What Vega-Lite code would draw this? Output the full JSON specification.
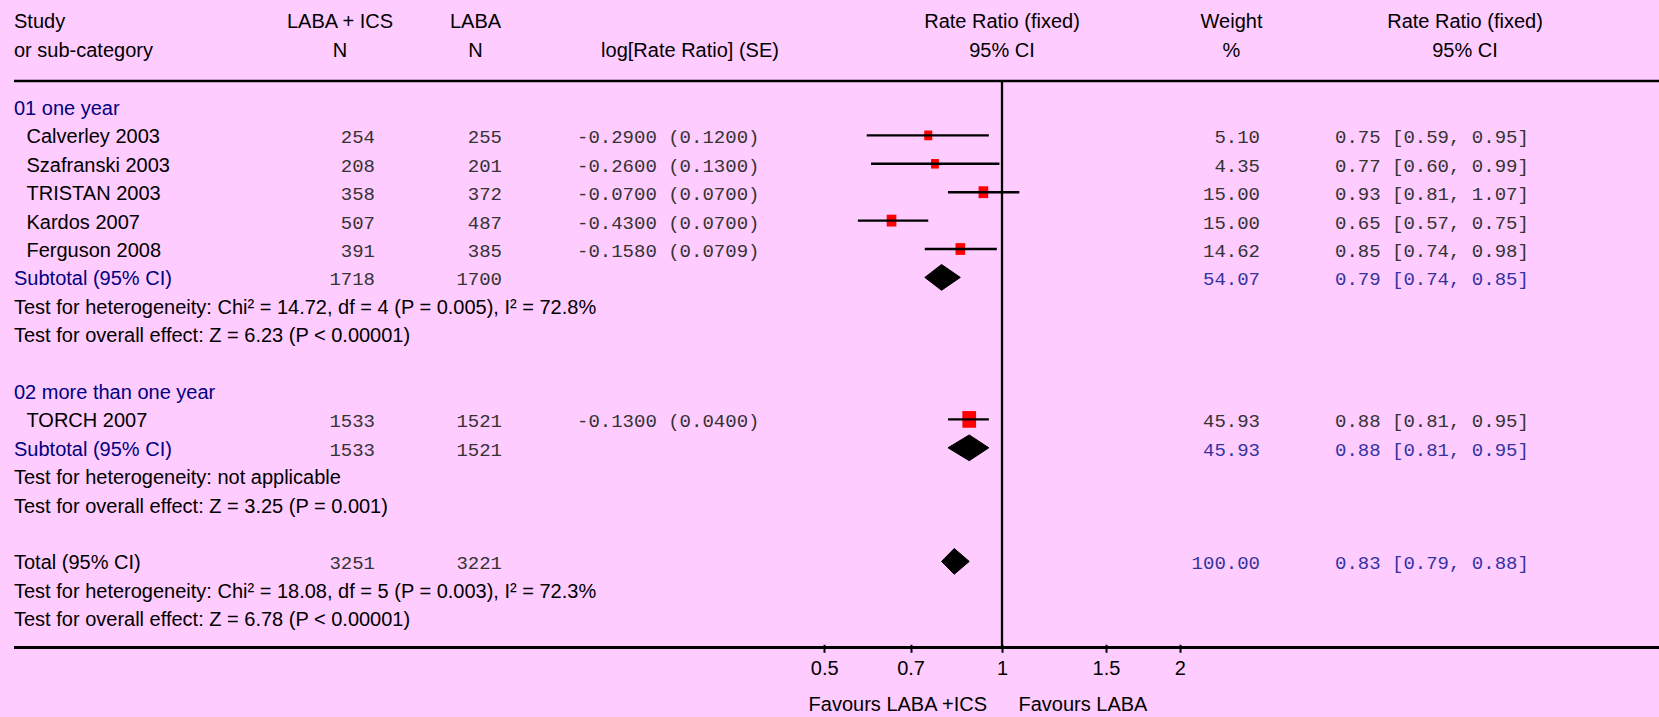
{
  "$schema": "https://vega.github.io/schema/vega-lite/v6.json",
  "background": "#FFCCFF",
  "padding": {"left": 12, "top": 0, "right": 0, "bottom": 0},
  "spacing": 0,
  "bounds": "flush",
  "config": {
    "view": {"stroke": null},
    "text": {"baseline": "middle", "dy": 2, "font": "Liberation Sans", "fontSize": 20, "color": "black"}
  },
  "datasets": {
    "rows": [
      {"row": 0, "kind": "group", "label": "01 one year"},
      {"row": 1, "kind": "study", "label": "Calverley 2003", "n1": 254, "n2": 255, "lrr": "-0.2900 (0.1200)", "weight": 5.10, "ci": "0.75 [0.59, 0.95]", "rr": 0.75, "lo": 0.59, "hi": 0.95},
      {"row": 2, "kind": "study", "label": "Szafranski 2003", "n1": 208, "n2": 201, "lrr": "-0.2600 (0.1300)", "weight": 4.35, "ci": "0.77 [0.60, 0.99]", "rr": 0.77, "lo": 0.60, "hi": 0.99},
      {"row": 3, "kind": "study", "label": "TRISTAN 2003", "n1": 358, "n2": 372, "lrr": "-0.0700 (0.0700)", "weight": 15.00, "ci": "0.93 [0.81, 1.07]", "rr": 0.93, "lo": 0.81, "hi": 1.07},
      {"row": 4, "kind": "study", "label": "Kardos 2007", "n1": 507, "n2": 487, "lrr": "-0.4300 (0.0700)", "weight": 15.00, "ci": "0.65 [0.57, 0.75]", "rr": 0.65, "lo": 0.57, "hi": 0.75},
      {"row": 5, "kind": "study", "label": "Ferguson 2008", "n1": 391, "n2": 385, "lrr": "-0.1580 (0.0709)", "weight": 14.62, "ci": "0.85 [0.74, 0.98]", "rr": 0.85, "lo": 0.74, "hi": 0.98},
      {"row": 6, "kind": "subtotal", "label": "Subtotal (95% CI)", "n1": 1718, "n2": 1700, "weight": 54.07, "ci": "0.79 [0.74, 0.85]", "rr": 0.79, "lo": 0.74, "hi": 0.85},
      {"row": 7, "kind": "test", "label": "Test for heterogeneity: Chi² = 14.72, df = 4 (P = 0.005), I² = 72.8%"},
      {"row": 8, "kind": "test", "label": "Test for overall effect: Z = 6.23 (P < 0.00001)"},
      {"row": 10, "kind": "group", "label": "02 more than one year"},
      {"row": 11, "kind": "study", "label": "TORCH 2007", "n1": 1533, "n2": 1521, "lrr": "-0.1300 (0.0400)", "weight": 45.93, "ci": "0.88 [0.81, 0.95]", "rr": 0.88, "lo": 0.81, "hi": 0.95},
      {"row": 12, "kind": "subtotal", "label": "Subtotal (95% CI)", "n1": 1533, "n2": 1521, "weight": 45.93, "ci": "0.88 [0.81, 0.95]", "rr": 0.88, "lo": 0.81, "hi": 0.95},
      {"row": 13, "kind": "test", "label": "Test for heterogeneity: not applicable"},
      {"row": 14, "kind": "test", "label": "Test for overall effect: Z = 3.25 (P = 0.001)"},
      {"row": 16, "kind": "total", "label": "Total (95% CI)", "n1": 3251, "n2": 3221, "weight": 100.00, "ci": "0.83 [0.79, 0.88]", "rr": 0.83, "lo": 0.79, "hi": 0.88},
      {"row": 17, "kind": "test", "label": "Test for heterogeneity: Chi² = 18.08, df = 5 (P = 0.003), I² = 72.3%"},
      {"row": 18, "kind": "test", "label": "Test for overall effect: Z = 6.78 (P < 0.00001)"}
    ],
    "header": [
      {"row": -3, "col": "study", "text": "Study"},
      {"row": -2, "col": "study", "text": "or sub-category"},
      {"row": -3, "col": "n1", "text": "LABA + ICS"},
      {"row": -2, "col": "n1", "text": "N"},
      {"row": -3, "col": "n2", "text": "LABA"},
      {"row": -2, "col": "n2", "text": "N"},
      {"row": -2, "col": "lrr", "text": "log[Rate Ratio] (SE)"},
      {"row": -3, "col": "forest", "text": "Rate Ratio (fixed)"},
      {"row": -2, "col": "forest", "text": "95% CI"},
      {"row": -3, "col": "weight", "text": "Weight"},
      {"row": -2, "col": "weight", "text": "%"},
      {"row": -3, "col": "ci", "text": "Rate Ratio (fixed)"},
      {"row": -2, "col": "ci", "text": "95% CI"}
    ]
  },
  "hconcat": [
    {
      "width": 291, "height": 717,
      "layer": [
        {"data": {"values": [{}]}, "mark": {"type": "rule", "color": "black", "strokeWidth": 2.5}, "encoding": {"y": {"datum": -0.915, "type": "quantitative", "scale": {"domain": [-3.7676, 21.4789], "reverse": true, "nice": false, "zero": false}, "axis": null}}},
        {"data": {"values": [{}]}, "mark": {"type": "rule", "color": "black", "strokeWidth": 3}, "encoding": {"y": {"datum": 19.03, "type": "quantitative", "scale": {"domain": [-3.7676, 21.4789], "reverse": true, "nice": false, "zero": false}, "axis": null}}},
        {"data": {"name": "header"}, "transform": [{"filter": "datum.col === 'study'"}], "mark": {"type": "text", "align": "left", "dy": 0.5},
         "encoding": {"x": {"datum": "left", "type": "nominal", "scale": {"type": "point", "domain": ["left", "center", "right"], "padding": 0}, "axis": null},
                      "y": {"field": "row", "type": "quantitative", "scale": {"domain": [-3.7676, 21.4789], "reverse": true, "nice": false, "zero": false}, "axis": null},
                      "text": {"field": "text", "type": "nominal"}}},
        {"data": {"name": "rows"}, "transform": [{"filter": "datum.kind !== 'study'"}], "mark": {"type": "text", "align": "left"},
         "encoding": {"x": {"datum": "left", "type": "nominal", "scale": {"type": "point", "domain": ["left", "center", "right"], "padding": 0}, "axis": null},
                      "y": {"field": "row", "type": "quantitative", "scale": {"domain": [-3.7676, 21.4789], "reverse": true, "nice": false, "zero": false}, "axis": null},
                      "text": {"field": "label", "type": "nominal"},
                      "color": {"condition": {"test": "datum.kind === 'group' || datum.kind === 'subtotal'", "value": "#000080"}, "value": "black"}}},
        {"data": {"name": "rows"}, "transform": [{"filter": "datum.kind === 'study'"}], "mark": {"type": "text", "align": "left", "dx": 12.5},
         "encoding": {"x": {"datum": "left", "type": "nominal", "scale": {"type": "point", "domain": ["left", "center", "right"], "padding": 0}, "axis": null},
                      "y": {"field": "row", "type": "quantitative", "scale": {"domain": [-3.7676, 21.4789], "reverse": true, "nice": false, "zero": false}, "axis": null},
                      "text": {"field": "label", "type": "nominal"}}}
      ]
    },
    {
      "width": 70, "height": 717,
      "layer": [
        {"data": {"values": [{}]}, "mark": {"type": "rule", "color": "black", "strokeWidth": 2.5}, "encoding": {"y": {"datum": -0.915, "type": "quantitative", "scale": {"domain": [-3.7676, 21.4789], "reverse": true, "nice": false, "zero": false}, "axis": null}}},
        {"data": {"values": [{}]}, "mark": {"type": "rule", "color": "black", "strokeWidth": 3}, "encoding": {"y": {"datum": 19.03, "type": "quantitative", "scale": {"domain": [-3.7676, 21.4789], "reverse": true, "nice": false, "zero": false}, "axis": null}}},
        {"data": {"name": "header"}, "transform": [{"filter": "datum.col === 'n1'"}], "mark": {"type": "text", "align": "center", "dy": 0.5},
         "encoding": {"x": {"datum": "center", "type": "nominal", "scale": {"type": "point", "domain": ["left", "center", "right"], "padding": 0}, "axis": null},
                      "y": {"field": "row", "type": "quantitative", "scale": {"domain": [-3.7676, 21.4789], "reverse": true, "nice": false, "zero": false}, "axis": null},
                      "text": {"field": "text", "type": "nominal"}}},
        {"data": {"name": "rows"}, "transform": [{"filter": "isValid(datum.n1)"}], "mark": {"type": "text", "align": "right", "font": "Liberation Mono", "fontSize": 19, "color": "#333333"},
         "encoding": {"x": {"datum": "right", "type": "nominal", "scale": {"type": "point", "domain": ["left", "center", "right"], "padding": 0}, "axis": null},
                      "y": {"field": "row", "type": "quantitative", "scale": {"domain": [-3.7676, 21.4789], "reverse": true, "nice": false, "zero": false}, "axis": null},
                      "text": {"field": "n1", "type": "quantitative", "format": "d"}}}
      ]
    },
    {
      "width": 74, "height": 717,
      "layer": [
        {"data": {"values": [{}]}, "mark": {"type": "rule", "color": "black", "strokeWidth": 2.5}, "encoding": {"y": {"datum": -0.915, "type": "quantitative", "scale": {"domain": [-3.7676, 21.4789], "reverse": true, "nice": false, "zero": false}, "axis": null}}},
        {"data": {"values": [{}]}, "mark": {"type": "rule", "color": "black", "strokeWidth": 3}, "encoding": {"y": {"datum": 19.03, "type": "quantitative", "scale": {"domain": [-3.7676, 21.4789], "reverse": true, "nice": false, "zero": false}, "axis": null}}}
      ]
    },
    {
      "width": 53, "height": 717,
      "layer": [
        {"data": {"values": [{}]}, "mark": {"type": "rule", "color": "black", "strokeWidth": 2.5}, "encoding": {"y": {"datum": -0.915, "type": "quantitative", "scale": {"domain": [-3.7676, 21.4789], "reverse": true, "nice": false, "zero": false}, "axis": null}}},
        {"data": {"values": [{}]}, "mark": {"type": "rule", "color": "black", "strokeWidth": 3}, "encoding": {"y": {"datum": 19.03, "type": "quantitative", "scale": {"domain": [-3.7676, 21.4789], "reverse": true, "nice": false, "zero": false}, "axis": null}}},
        {"data": {"name": "header"}, "transform": [{"filter": "datum.col === 'n2'"}], "mark": {"type": "text", "align": "center", "dy": 0.5},
         "encoding": {"x": {"datum": "center", "type": "nominal", "scale": {"type": "point", "domain": ["left", "center", "right"], "padding": 0}, "axis": null},
                      "y": {"field": "row", "type": "quantitative", "scale": {"domain": [-3.7676, 21.4789], "reverse": true, "nice": false, "zero": false}, "axis": null},
                      "text": {"field": "text", "type": "nominal"}}},
        {"data": {"name": "rows"}, "transform": [{"filter": "isValid(datum.n2)"}], "mark": {"type": "text", "align": "right", "font": "Liberation Mono", "fontSize": 19, "color": "#333333"},
         "encoding": {"x": {"datum": "right", "type": "nominal", "scale": {"type": "point", "domain": ["left", "center", "right"], "padding": 0}, "axis": null},
                      "y": {"field": "row", "type": "quantitative", "scale": {"domain": [-3.7676, 21.4789], "reverse": true, "nice": false, "zero": false}, "axis": null},
                      "text": {"field": "n2", "type": "quantitative", "format": "d"}}}
      ]
    },
    {
      "width": 75, "height": 717,
      "layer": [
        {"data": {"values": [{}]}, "mark": {"type": "rule", "color": "black", "strokeWidth": 2.5}, "encoding": {"y": {"datum": -0.915, "type": "quantitative", "scale": {"domain": [-3.7676, 21.4789], "reverse": true, "nice": false, "zero": false}, "axis": null}}},
        {"data": {"values": [{}]}, "mark": {"type": "rule", "color": "black", "strokeWidth": 3}, "encoding": {"y": {"datum": 19.03, "type": "quantitative", "scale": {"domain": [-3.7676, 21.4789], "reverse": true, "nice": false, "zero": false}, "axis": null}}}
      ]
    },
    {
      "width": 226, "height": 717,
      "layer": [
        {"data": {"values": [{}]}, "mark": {"type": "rule", "color": "black", "strokeWidth": 2.5}, "encoding": {"y": {"datum": -0.915, "type": "quantitative", "scale": {"domain": [-3.7676, 21.4789], "reverse": true, "nice": false, "zero": false}, "axis": null}}},
        {"data": {"values": [{}]}, "mark": {"type": "rule", "color": "black", "strokeWidth": 3}, "encoding": {"y": {"datum": 19.03, "type": "quantitative", "scale": {"domain": [-3.7676, 21.4789], "reverse": true, "nice": false, "zero": false}, "axis": null}}},
        {"data": {"name": "header"}, "transform": [{"filter": "datum.col === 'lrr'"}], "mark": {"type": "text", "align": "center", "dy": 0.5},
         "encoding": {"x": {"datum": "center", "type": "nominal", "scale": {"type": "point", "domain": ["left", "center", "right"], "padding": 0}, "axis": null},
                      "y": {"field": "row", "type": "quantitative", "scale": {"domain": [-3.7676, 21.4789], "reverse": true, "nice": false, "zero": false}, "axis": null},
                      "text": {"field": "text", "type": "nominal"}}},
        {"data": {"name": "rows"}, "transform": [{"filter": "isValid(datum.lrr)"}], "mark": {"type": "text", "align": "left", "font": "Liberation Mono", "fontSize": 19, "color": "#333333"},
         "encoding": {"x": {"datum": "left", "type": "nominal", "scale": {"type": "point", "domain": ["left", "center", "right"], "padding": 0}, "axis": null},
                      "y": {"field": "row", "type": "quantitative", "scale": {"domain": [-3.7676, 21.4789], "reverse": true, "nice": false, "zero": false}, "axis": null},
                      "text": {"field": "lrr", "type": "nominal"}}}
      ]
    },
    {
      "width": 400, "height": 717,
      "layer": [
        {"data": {"values": [{}]}, "mark": {"type": "rule", "color": "black", "strokeWidth": 2.5}, "encoding": {"y": {"datum": -0.915, "type": "quantitative", "scale": {"domain": [-3.7676, 21.4789], "reverse": true, "nice": false, "zero": false}, "axis": null}}},
        {"data": {"values": [{}]}, "mark": {"type": "rule", "color": "black", "strokeWidth": 3}, "encoding": {"y": {"datum": 19.03, "type": "quantitative", "scale": {"domain": [-3.7676, 21.4789], "reverse": true, "nice": false, "zero": false}, "axis": null}}},
        {"data": {"values": [{}]}, "mark": {"type": "rule", "color": "black", "strokeWidth": 2.3},
         "encoding": {"x": {"datum": 1, "type": "quantitative", "scale": {"type": "log", "domain": [0.46018, 2.19006], "nice": false},
                            "axis": {"orient": "bottom", "values": [0.5, 0.7, 1, 1.5, 2], "format": "~g", "domain": false, "grid": false, "ticks": true, "tickSize": 8, "tickWidth": 2, "tickColor": "black", "labelFont": "Liberation Sans", "labelFontSize": 20, "labelColor": "black", "labelPadding": 6, "offset": -72.7, "title": null, "labelFlush": false, "labelOverlap": false}},
                      "y": {"datum": -0.915, "type": "quantitative", "scale": {"domain": [-3.7676, 21.4789], "reverse": true, "nice": false, "zero": false}, "axis": null},
                      "y2": {"datum": 19.03}}},
        {"data": {"name": "header"}, "transform": [{"filter": "datum.col === 'forest'"}], "mark": {"type": "text", "align": "center", "dy": 0.5},
         "encoding": {"x": {"datum": 1, "type": "quantitative", "scale": {"type": "log", "domain": [0.46018, 2.19006], "nice": false},
                            "axis": {"orient": "bottom", "values": [0.5, 0.7, 1, 1.5, 2], "format": "~g", "domain": false, "grid": false, "ticks": true, "tickSize": 8, "tickWidth": 2, "tickColor": "black", "labelFont": "Liberation Sans", "labelFontSize": 20, "labelColor": "black", "labelPadding": 6, "offset": -72.7, "title": null, "labelFlush": false, "labelOverlap": false}},
                      "y": {"field": "row", "type": "quantitative", "scale": {"domain": [-3.7676, 21.4789], "reverse": true, "nice": false, "zero": false}, "axis": null},
                      "text": {"field": "text", "type": "nominal"}}},
        {"data": {"name": "rows"}, "transform": [{"filter": "datum.kind === 'study'"}],
         "mark": {"type": "point", "shape": "M-0.82,-1L0.82,-1L0.82,1L-0.82,1Z", "filled": true, "color": "#FF0000", "opacity": 1, "strokeWidth": 0},
         "encoding": {"x": {"field": "rr", "type": "quantitative", "scale": {"type": "log", "domain": [0.46018, 2.19006], "nice": false},
                            "axis": {"orient": "bottom", "values": [0.5, 0.7, 1, 1.5, 2], "format": "~g", "domain": false, "grid": false, "ticks": true, "tickSize": 8, "tickWidth": 2, "tickColor": "black", "labelFont": "Liberation Sans", "labelFontSize": 20, "labelColor": "black", "labelPadding": 6, "offset": -72.7, "title": null, "labelFlush": false, "labelOverlap": false}},
                      "y": {"field": "row", "type": "quantitative", "scale": {"domain": [-3.7676, 21.4789], "reverse": true, "nice": false, "zero": false}, "axis": null},
                      "size": {"field": "weight", "type": "quantitative", "scale": {"type": "linear", "domain": [5.1, 45.93], "range": [95, 279], "zero": false}, "legend": null}}},
        {"data": {"name": "rows"}, "transform": [{"filter": "datum.kind === 'study'"}],
         "mark": {"type": "rule", "color": "black", "strokeWidth": 2.4},
         "encoding": {"x": {"field": "lo", "type": "quantitative", "scale": {"type": "log", "domain": [0.46018, 2.19006], "nice": false},
                            "axis": {"orient": "bottom", "values": [0.5, 0.7, 1, 1.5, 2], "format": "~g", "domain": false, "grid": false, "ticks": true, "tickSize": 8, "tickWidth": 2, "tickColor": "black", "labelFont": "Liberation Sans", "labelFontSize": 20, "labelColor": "black", "labelPadding": 6, "offset": -72.7, "title": null, "labelFlush": false, "labelOverlap": false}},
                      "x2": {"field": "hi"},
                      "y": {"field": "row", "type": "quantitative", "scale": {"domain": [-3.7676, 21.4789], "reverse": true, "nice": false, "zero": false}, "axis": null}}},
        {"data": {"name": "rows"}, "transform": [{"filter": "datum.kind === 'subtotal' || datum.kind === 'total'"}],
         "mark": {"type": "point", "filled": true, "color": "black", "stroke": "black", "strokeWidth": 1, "opacity": 1, "size": 665.6},
         "encoding": {"x": {"field": "rr", "type": "quantitative", "scale": {"type": "log", "domain": [0.46018, 2.19006], "nice": false},
                            "axis": {"orient": "bottom", "values": [0.5, 0.7, 1, 1.5, 2], "format": "~g", "domain": false, "grid": false, "ticks": true, "tickSize": 8, "tickWidth": 2, "tickColor": "black", "labelFont": "Liberation Sans", "labelFontSize": 20, "labelColor": "black", "labelPadding": 6, "offset": -72.7, "title": null, "labelFlush": false, "labelOverlap": false}},
                      "y": {"field": "row", "type": "quantitative", "scale": {"domain": [-3.7676, 21.4789], "reverse": true, "nice": false, "zero": false}, "axis": null},
                      "shape": {"field": "row", "type": "nominal", "scale": {"domain": [6, 12, 16], "range": ["M-1.299,0L0,-1L1.455,0L0,1Z", "M-1.647,0L0,-1L1.522,0L0,1Z", "M-0.981,0L0,-1L1.163,0L0,1Z"]}, "legend": null}}},
        {"data": {"values": [{}]}, "mark": {"type": "text", "align": "right", "dx": -15},
         "encoding": {"x": {"datum": 1, "type": "quantitative", "scale": {"type": "log", "domain": [0.46018, 2.19006], "nice": false},
                            "axis": {"orient": "bottom", "values": [0.5, 0.7, 1, 1.5, 2], "format": "~g", "domain": false, "grid": false, "ticks": true, "tickSize": 8, "tickWidth": 2, "tickColor": "black", "labelFont": "Liberation Sans", "labelFontSize": 20, "labelColor": "black", "labelPadding": 6, "offset": -72.7, "title": null, "labelFlush": false, "labelOverlap": false}},
                      "y": {"datum": 21, "type": "quantitative", "scale": {"domain": [-3.7676, 21.4789], "reverse": true, "nice": false, "zero": false}, "axis": null},
                      "text": {"value": "Favours LABA +ICS"}}},
        {"data": {"values": [{}]}, "mark": {"type": "text", "align": "left", "dx": 16.5},
         "encoding": {"x": {"datum": 1, "type": "quantitative", "scale": {"type": "log", "domain": [0.46018, 2.19006], "nice": false},
                            "axis": {"orient": "bottom", "values": [0.5, 0.7, 1, 1.5, 2], "format": "~g", "domain": false, "grid": false, "ticks": true, "tickSize": 8, "tickWidth": 2, "tickColor": "black", "labelFont": "Liberation Sans", "labelFontSize": 20, "labelColor": "black", "labelPadding": 6, "offset": -72.7, "title": null, "labelFlush": false, "labelOverlap": false}},
                      "y": {"datum": 21, "type": "quantitative", "scale": {"domain": [-3.7676, 21.4789], "reverse": true, "nice": false, "zero": false}, "axis": null},
                      "text": {"value": "Favours LABA"}}}
      ]
    },
    {
      "width": 57, "height": 717,
      "layer": [
        {"data": {"values": [{}]}, "mark": {"type": "rule", "color": "black", "strokeWidth": 2.5}, "encoding": {"y": {"datum": -0.915, "type": "quantitative", "scale": {"domain": [-3.7676, 21.4789], "reverse": true, "nice": false, "zero": false}, "axis": null}}},
        {"data": {"values": [{}]}, "mark": {"type": "rule", "color": "black", "strokeWidth": 3}, "encoding": {"y": {"datum": 19.03, "type": "quantitative", "scale": {"domain": [-3.7676, 21.4789], "reverse": true, "nice": false, "zero": false}, "axis": null}}},
        {"data": {"name": "header"}, "transform": [{"filter": "datum.col === 'weight'"}], "mark": {"type": "text", "align": "center", "dy": 0.5},
         "encoding": {"x": {"datum": "center", "type": "nominal", "scale": {"type": "point", "domain": ["left", "center", "right"], "padding": 0}, "axis": null},
                      "y": {"field": "row", "type": "quantitative", "scale": {"domain": [-3.7676, 21.4789], "reverse": true, "nice": false, "zero": false}, "axis": null},
                      "text": {"field": "text", "type": "nominal"}}},
        {"data": {"name": "rows"}, "transform": [{"filter": "isValid(datum.weight)"}], "mark": {"type": "text", "align": "right", "font": "Liberation Mono", "fontSize": 19},
         "encoding": {"x": {"datum": "right", "type": "nominal", "scale": {"type": "point", "domain": ["left", "center", "right"], "padding": 0}, "axis": null},
                      "y": {"field": "row", "type": "quantitative", "scale": {"domain": [-3.7676, 21.4789], "reverse": true, "nice": false, "zero": false}, "axis": null},
                      "text": {"field": "weight", "type": "quantitative", "format": ".2f"},
                      "color": {"condition": {"test": "datum.kind === 'subtotal' || datum.kind === 'total'", "value": "#3333A0"}, "value": "#333333"}}}
      ]
    },
    {
      "width": 75, "height": 717,
      "layer": [
        {"data": {"values": [{}]}, "mark": {"type": "rule", "color": "black", "strokeWidth": 2.5}, "encoding": {"y": {"datum": -0.915, "type": "quantitative", "scale": {"domain": [-3.7676, 21.4789], "reverse": true, "nice": false, "zero": false}, "axis": null}}},
        {"data": {"values": [{}]}, "mark": {"type": "rule", "color": "black", "strokeWidth": 3}, "encoding": {"y": {"datum": 19.03, "type": "quantitative", "scale": {"domain": [-3.7676, 21.4789], "reverse": true, "nice": false, "zero": false}, "axis": null}}}
      ]
    },
    {
      "width": 260, "height": 717,
      "layer": [
        {"data": {"values": [{}]}, "mark": {"type": "rule", "color": "black", "strokeWidth": 2.5}, "encoding": {"y": {"datum": -0.915, "type": "quantitative", "scale": {"domain": [-3.7676, 21.4789], "reverse": true, "nice": false, "zero": false}, "axis": null}}},
        {"data": {"values": [{}]}, "mark": {"type": "rule", "color": "black", "strokeWidth": 3}, "encoding": {"y": {"datum": 19.03, "type": "quantitative", "scale": {"domain": [-3.7676, 21.4789], "reverse": true, "nice": false, "zero": false}, "axis": null}}},
        {"data": {"name": "header"}, "transform": [{"filter": "datum.col === 'ci'"}], "mark": {"type": "text", "align": "center", "dy": 0.5},
         "encoding": {"x": {"datum": "center", "type": "nominal", "scale": {"type": "point", "domain": ["left", "center", "right"], "padding": 0}, "axis": null},
                      "y": {"field": "row", "type": "quantitative", "scale": {"domain": [-3.7676, 21.4789], "reverse": true, "nice": false, "zero": false}, "axis": null},
                      "text": {"field": "text", "type": "nominal"}}},
        {"data": {"name": "rows"}, "transform": [{"filter": "isValid(datum.ci)"}], "mark": {"type": "text", "align": "left", "font": "Liberation Mono", "fontSize": 19},
         "encoding": {"x": {"datum": "left", "type": "nominal", "scale": {"type": "point", "domain": ["left", "center", "right"], "padding": 0}, "axis": null},
                      "y": {"field": "row", "type": "quantitative", "scale": {"domain": [-3.7676, 21.4789], "reverse": true, "nice": false, "zero": false}, "axis": null},
                      "text": {"field": "ci", "type": "nominal"},
                      "color": {"condition": {"test": "datum.kind === 'subtotal' || datum.kind === 'total'", "value": "#3333A0"}, "value": "#333333"}}}
      ]
    },
    {
      "width": 66, "height": 717,
      "layer": [
        {"data": {"values": [{}]}, "mark": {"type": "rule", "color": "black", "strokeWidth": 2.5}, "encoding": {"y": {"datum": -0.915, "type": "quantitative", "scale": {"domain": [-3.7676, 21.4789], "reverse": true, "nice": false, "zero": false}, "axis": null}}},
        {"data": {"values": [{}]}, "mark": {"type": "rule", "color": "black", "strokeWidth": 3}, "encoding": {"y": {"datum": 19.03, "type": "quantitative", "scale": {"domain": [-3.7676, 21.4789], "reverse": true, "nice": false, "zero": false}, "axis": null}}}
      ]
    }
  ]
}
